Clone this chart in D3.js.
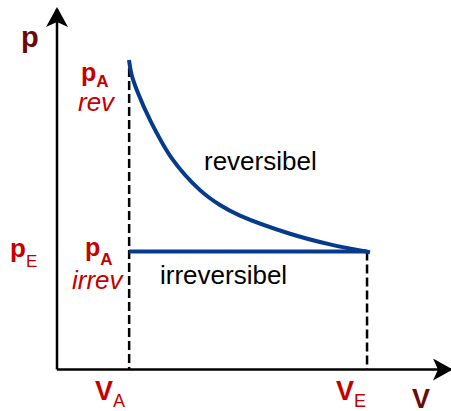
<!DOCTYPE html>
<html>
<head>
<meta charset="utf-8">
<script src="https://cdn.jsdelivr.net/npm/d3@7"></script>
<style>
  body { margin: 0; background: #fff; }
  svg { display: block; font-family: "Liberation Sans", Arial, sans-serif; }
</style>
</head>
<body>
<svg id="chart"></svg>
<script>
// values, in arbitrary units (axis 0..100)
const curveV = [18.46, 19.15, 20.77, 23.85, 29.49, 36.67, 41.79, 46.92, 59.74, 70.0, 80.26];
const curveP = [87.31, 83.1, 78.0, 70.4, 59.5, 50.6, 46.4, 43.4, 38.3, 35.3, 33.1];
const volMarks = [18.5, 79.5];          // V_A, V_E
const pIrrev = 33.3;                    // p_A irrev = p_E
const pRev = 87.3;

const W = 451, H = 411;
const red = '#c40000', darkRed = '#6b0a0a', blue = '#063a8c';

const svg = d3.select('#chart').attr('width', W).attr('height', H);

const x = d3.scaleLinear().domain([0, 100]).range([57, 447]);
const y = d3.scaleLinear().domain([0, 100]).range([369.5, 15]);

// arrow markers
const defs = svg.append('defs');
defs.append('marker').attr('id', 'arr').attr('viewBox', '0 0 20 22')
  .attr('refX', 18).attr('refY', 11).attr('markerWidth', 20).attr('markerHeight', 22)
  .attr('markerUnits', 'userSpaceOnUse').attr('orient', 'auto')
  .append('path').attr('d', 'M0,0 L20,11 L0,22 L5,11 Z').attr('fill', '#000');

// dashed guides
svg.append('line').attr('x1', x(volMarks[0])).attr('x2', x(volMarks[0]))
  .attr('y1', y(pRev) + 8).attr('y2', y(0))
  .attr('stroke', '#000').attr('stroke-width', 2.5).attr('stroke-dasharray', '9,4');
svg.append('line').attr('x1', x(volMarks[1])).attr('x2', x(volMarks[1]))
  .attr('y1', y(pIrrev)).attr('y2', y(0))
  .attr('stroke', '#000').attr('stroke-width', 2.5).attr('stroke-dasharray', '9,4');

// axes
svg.append('line').attr('x1', x(0)).attr('y1', y(0)).attr('x2', x(0)).attr('y2', 9)
  .attr('stroke', '#000').attr('stroke-width', 2.5).attr('marker-end', 'url(#arr)');
svg.append('line').attr('x1', x(0)).attr('y1', y(0)).attr('x2', 451).attr('y2', y(0))
  .attr('stroke', '#000').attr('stroke-width', 2.5).attr('marker-end', 'url(#arr)');

// irreversible path
svg.append('line').attr('x1', x(volMarks[0])).attr('x2', x(volMarks[1]))
  .attr('y1', y(pIrrev)).attr('y2', y(pIrrev))
  .attr('stroke', blue).attr('stroke-width', 4);

// reversible isotherm
const line = d3.line().x((d) => x(d[0])).y((d) => y(d[1])).curve(d3.curveCatmullRom.alpha(0.5));
svg.append('path').datum(d3.zip(curveV, curveP)).attr('d', line)
  .attr('fill', 'none').attr('stroke', blue).attr('stroke-width', 4);

// labels
function sub(xp, yp, main, subTxt, color, size, subSize, dy, subBold) {
  const t = svg.append('text').attr('x', xp).attr('y', yp).attr('fill', color)
    .attr('font-size', size).attr('font-weight', 'bold');
  t.append('tspan').text(main);
  t.append('tspan').attr('dy', dy).attr('font-size', subSize)
    .attr('font-weight', subBold ? 'bold' : 'normal').text(subTxt);
  return t;
}

svg.append('text').attr('x', 21).attr('y', 47).attr('fill', darkRed)
  .attr('font-size', 29).attr('font-weight', 'bold').text('p');
svg.append('text').attr('x', 412).attr('y', 408).attr('fill', darkRed)
  .attr('font-size', 27).attr('font-weight', 'bold').text('V');

sub(81, 81, 'p', 'A', red, 25, 17, 6, true);
svg.append('text').attr('x', 78).attr('y', 111).attr('fill', red)
  .attr('font-size', 26).attr('font-style', 'italic').text('rev');

sub(10, 257, 'p', 'E', red, 26, 17, 10, false);
sub(85, 256, 'p', 'A', red, 25, 17, 9, true);
svg.append('text').attr('x', 72).attr('y', 289).attr('fill', red)
  .attr('font-size', 26).attr('font-style', 'italic').text('irrev');

sub(95, 400, 'V', 'A', red, 27, 18, 7, false);
sub(336, 400, 'V', 'E', red, 27, 18, 7, false);

svg.append('text').attr('x', 204).attr('y', 170).attr('fill', '#000')
  .attr('font-size', 26).text('reversibel');
svg.append('text').attr('x', 160).attr('y', 284).attr('fill', '#000')
  .attr('font-size', 26).text('irreversibel');
</script>
</body>
</html>
